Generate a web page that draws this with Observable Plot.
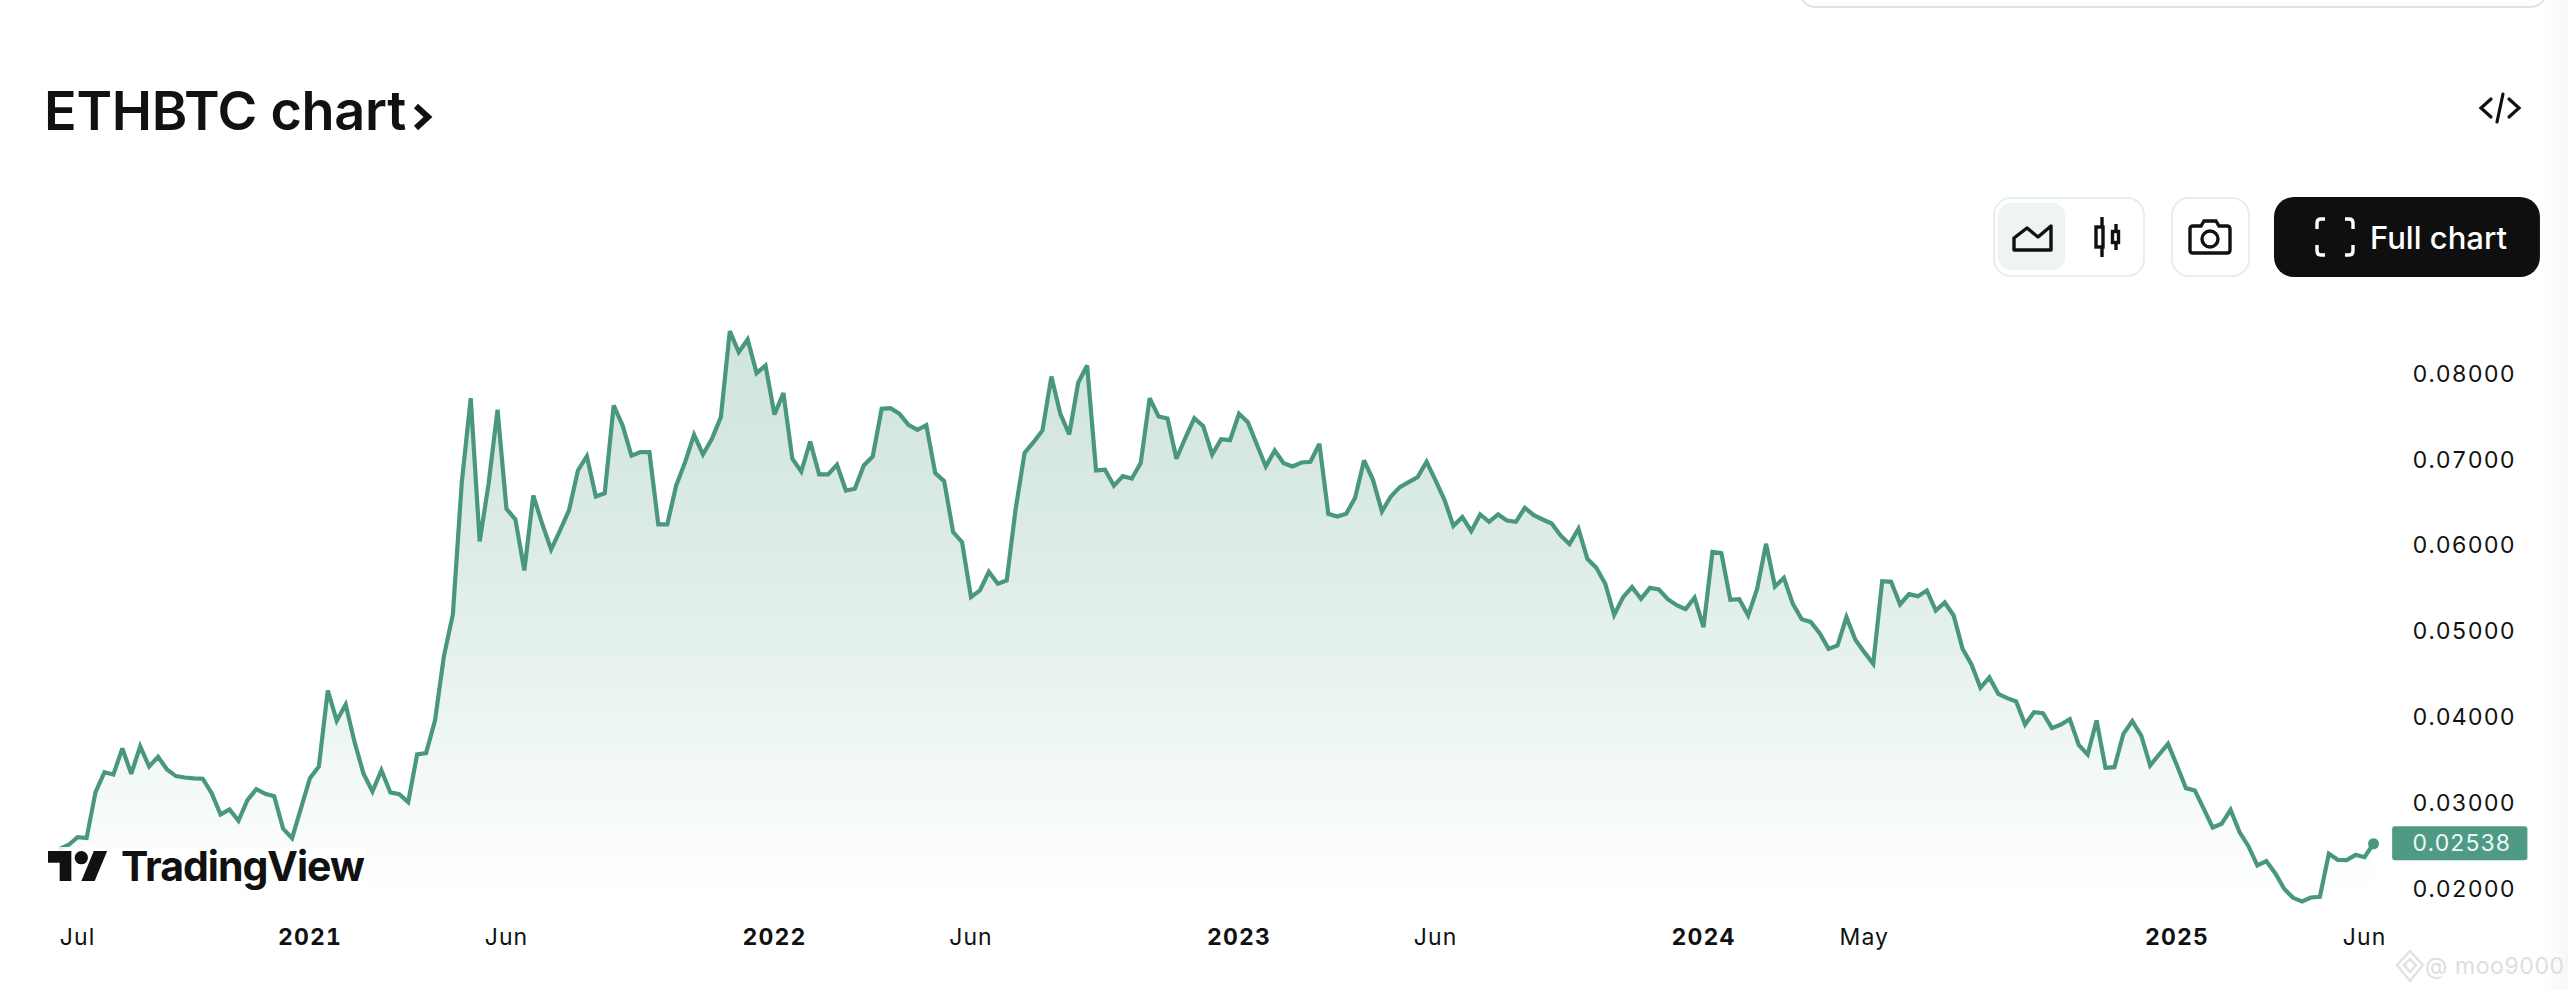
<!DOCTYPE html>
<html>
<head>
<meta charset="utf-8">
<script src="https://cdn.jsdelivr.net/npm/d3@7"></script>
<script src="https://cdn.jsdelivr.net/npm/@observablehq/plot@0.6"></script>
<style>
html,body{margin:0;padding:0;background:#fff;width:2568px;height:990px;overflow:hidden;font-family:Inter,sans-serif;color:#111;}
#page{position:relative;width:2568px;height:990px;}
#header{position:relative;height:300px;}
#chart{position:absolute;left:0;top:300px;}
.abs{position:absolute;box-sizing:border-box;}
#strip{left:2538px;top:0;width:30px;height:990px;background:linear-gradient(90deg,rgba(248,248,248,0),#f8f8f8);}
#panel{left:1798px;top:-30px;width:750px;height:38px;border:2px solid #e2e4e3;border-radius:18px;background:#fff;}
#title{left:44px;top:76px;font-size:54px;font-weight:600;line-height:70px;letter-spacing:-.3px;white-space:nowrap;}
.box{border:2px solid #e4f0ec;border-radius:18px;top:197px;height:80px;background:#fff;}
#active{left:1998px;top:203px;width:67px;height:67px;border-radius:13px;background:#eff3f1;}
#full{left:2274px;top:197px;width:266px;height:80px;border-radius:20px;background:#0f0f0f;}
#fulltext{left:2370px;top:217px;font-size:31px;font-weight:500;line-height:42px;color:#fff;white-space:nowrap;}
svg.icon{position:absolute;overflow:visible;fill:none;stroke:#111;stroke-width:3.4;}
#logobg{left:44px;top:847px;width:322px;height:46px;background:rgba(255,255,255,.88);}
#logo{left:121px;top:838px;font-size:41px;font-weight:700;line-height:56px;letter-spacing:-1px;color:#111;white-space:nowrap;}
#mark{left:2425px;top:951px;font-size:23px;font-weight:400;line-height:30px;color:#dedede;white-space:nowrap;letter-spacing:.6px;}
</style>
</head>
<body>
<div id="page">
  <div id="header">
    <div class="abs" id="panel"></div>
    <div class="abs" id="title">ETHBTC chart</div>
    <svg class="icon" style="left:414px;top:104px;stroke-width:6" width="17" height="26"><path d="M2 2 L14 13 L2 24"/></svg>
    <svg class="icon" style="left:2480px;top:93px;stroke-width:3.2;stroke-linecap:round" width="40" height="30"><path d="M11 6 L1 15 L11 24 M29 6 L39 15 L29 24 M23 1 L17 29"/></svg>
    <div class="abs box" style="left:1993px;width:152px"></div>
    <div class="abs" id="active"></div>
    <svg class="icon" style="left:2012px;top:223px" width="41" height="28"><path d="M2 27 H39 V3 L26 14 L15 5 L2 15 Z" stroke-linejoin="round"/></svg>
    <svg class="icon" style="left:2094px;top:217px" width="26" height="40"><path d="M8 0 V11 M8 29 V40 M22 7 V15 M22 25 V33"/><rect x="2" y="10" width="7" height="20" fill="#fff"/><rect x="18.500" y="14.500" width="6" height="11" fill="#fff"/></svg>
    <div class="abs box" style="left:2171px;width:79px"></div>
    <svg class="icon" style="left:2188px;top:219px" width="44" height="36"><path d="M5 7 H13 L16 2 H28 L31 7 H39 Q42 7 42 10 V31 Q42 34 39 34 H5 Q2 34 2 31 V10 Q2 7 5 7 Z"/><circle cx="22" cy="20" r="8"/></svg>
    <div class="abs" id="full"></div>
    <svg class="icon" style="left:2315px;top:217px;stroke:#fff;stroke-width:3.4" width="40" height="40"><path d="M10 2 H6 Q2 2 2 6 V12 M30 2 H34 Q38 2 38 6 V12 M10 38 H6 Q2 38 2 34 V28 M30 38 H34 Q38 38 38 34 V28"/></svg>
    <div class="abs" id="fulltext">Full chart</div>
  </div>
  <div id="chart"></div>
  <div class="abs" id="logobg"></div>
  <svg class="icon" style="left:48px;top:851px;stroke:none;fill:#111" width="60" height="30" viewBox="0 4 36 18"><path d="M14 22H7V11H0V4h14v18zM28 22h-8l7.5-18h8L28 22z"/><circle cx="20" cy="8" r="4"/></svg>
  <div class="abs" id="logo">TradingView</div>
  <div class="abs" id="strip"></div>
  <svg class="icon" style="left:2396px;top:950px;stroke:#e2e2e2;stroke-width:2.5" width="28" height="32"><path d="M14 1 L27 15 L14 31 L1 15 Z M14 9 L20 15 L14 22 L8 15 Z"/></svg>
  <div class="abs" id="mark">@ moo9000</div>
</div>
<script>
// ETH/BTC weekly closes, Monday bars
const firstWeek = "2020-06-22";
const lastWeek = "2025-06-09";
const values2020 = [.02479,.02526,.02615,.02604,.03139,.03371,.03344,.03646,.03352,.03670,.03437,.03550,.03402,.03325,.03309,.03298,.03294,.03127,.02879,.02937,.02805,.03046,.03173,.03119,.03092,.02712,.02604,.02952];
const values2021 = [.03301,.03437,.04321,.03968,.04158,.03720,.03352,.03146,.03394,.03135,.03115,.03022,.03577,.03592,.03972,.04721,.05206,.06744,.07721,.06054,.06725,.07586,.06434,.06310,.05717,.06589,.06260,.05961,.06182,.06415,.06880,.07047,.06578,.06616,.07636,.07403,.07051,.07093,.07093,.06252,.06252,.06706,.06977,.07295,.07066,.07248,.07500,.08501,.08256,.08404,.08012,.08101];
const values2022 = [.07531,.07780,.07016,.06868,.07217,.06834,.06834,.06946,.06647,.06667,.06938,.07043,.07597,.07605,.07539,.07411,.07353,.07407,.06849,.06756,.06163,.06046,.05407,.05484,.05701,.05562,.05601,.06434,.07085,.07209,.07345,.07973,.07539,.07299,.07900,.08101,.06880,.06888,.06702,.06814,.06787,.06965,.07721,.07508,.07485,.07016,.07260,.07489,.07396,.07066,.07244,.07233];
const values2023 = [.07539,.07442,.07182,.06926,.07112,.06965,.06926,.06973,.06981,.07190,.06376,.06345,.06376,.06562,.06996,.06771,.06403,.06578,.06686,.06744,.06802,.06981,.06764,.06539,.06236,.06337,.06174,.06368,.06283,.06368,.06298,.06283,.06446,.06360,.06310,.06263,.06124,.06023,.06201,.05852,.05748,.05562,.05201,.05406,.05523,.05387,.05515,.05495,.05383,.05313,.05267,.05399];
const values2024 = [.05057,.05934,.05918,.05375,.05383,.05193,.05503,.06027,.05530,.05631,.05329,.05150,.05119,.04988,.04805,.04844,.05174,.04910,.04767,.04631,.05592,.05585,.05321,.05441,.05418,.05484,.05251,.05344,.05193,.04805,.04623,.04352,.04472,.04282,.04232,.04193,.03925,.04069,.04057,.03883,.03925,.03987,.03689,.03576,.03972,.03421,.03429,.03817,.03964,.03797,.03448,.03576,.03700];
const values2025 = [.03448,.03185,.03158,.02944,.02727,.02770,.02933,.02673,.02510,.02285,.02336,.02196,.02014,.01909,.01867,.01913,.01921,.02421,.02351,.02347,.02409,.02382,.02538];
const values = [...values2020,...values2021,...values2022,...values2023,...values2024,...values2025];

const priceTicks = [.02,.03,.04,.05,.06,.07,.08];
const monthTicks = ["2020-07-06","2021-06-07","2022-06-06","2023-06-05","2024-05-06","2025-06-02"];
const yearTicks = ["2021-01-04","2022-01-03","2023-01-02","2024-01-01","2025-01-06"];
const labelBand = ["2025-06-24","2025-10-08"];
const labelSpan = [.0234,.02736];

const d = s => new Date(s + "T00:00:00Z");
const weeks = d3.utcMonday.range(d(firstWeek), new Date(+d(lastWeek) + 864e5));
const table = weeks.map((date,i) => ({date, v: values[i]}));
const last = table[table.length-1];
const floor = .017;
const lineColor = "#4a9781";

const defs = () => {
  const g = d3.create("svg:defs");
  const lg = g.append("linearGradient").attr("id","areaFill").attr("x1",0).attr("x2",0).attr("y1",0).attr("y2",1);
  [[0,"#cfe3dc"],[.35,"#dcebe6"],[.6,"#e8f3ef"],[.8,"#f5faf8"],[.93,"#fdfefe"],[1,"#ffffff"]].forEach(([o,c]) =>
    lg.append("stop").attr("offset",o).attr("stop-color",c));
  return g.node();
};

const fmt = d3.format(".5f");
const chart = Plot.plot({
  width: 2568, height: 690,
  marginLeft: 59.3, marginRight: 195, marginTop: 13.5, marginBottom: 74.7,
  style: {fontFamily:"Inter, sans-serif", fontSize:"23px", letterSpacing:"1.1px", color:"#111", background:"transparent", overflow:"visible"},
  x: {type:"utc", domain:[d(firstWeek), d(lastWeek)], range:[59.3,2373]},
  y: {domain:[floor,.087], range:[615.3,13.5]},
  marks: [
    defs,
    Plot.areaY(table,{x:"date",y1:floor,y2:"v",fill:"url(#areaFill)"}),
    Plot.lineY(table,{x:"date",y:"v",stroke:lineColor,strokeWidth:4.2,strokeLinejoin:"miter",strokeMiterlimit:3}),
    Plot.dot([last],{x:"date",y:"v",r:5.5,fill:lineColor}),
    Plot.axisY({anchor:"right",ticks:priceTicks,tickFormat:fmt,tickSize:0,tickPadding:39,textAnchor:"start",label:null,fill:"#111"}),
    Plot.axisX({anchor:"bottom",ticks:monthTicks.map(d),tickFormat:d3.utcFormat("%b"),tickSize:0,tickPadding:13,label:null,fill:"#111"}),
    Plot.axisX({anchor:"bottom",ticks:yearTicks.map(d),tickFormat:d3.utcFormat("%Y"),tickSize:0,tickPadding:13,label:null,fontWeight:700,fill:"#111"}),
    Plot.rect([last],{x1:()=>d(labelBand[0]),x2:()=>d(labelBand[1]),y1:()=>labelSpan[0],y2:()=>labelSpan[1],fill:"#4f9a85",rx:3}),
    Plot.text([last],{x:"date",y:"v",dx:39,text:r=>fmt(r.v),textAnchor:"start",fill:"#eef7f4"})
  ]
});
document.getElementById("chart").append(chart);
</script>
</body>
</html>
